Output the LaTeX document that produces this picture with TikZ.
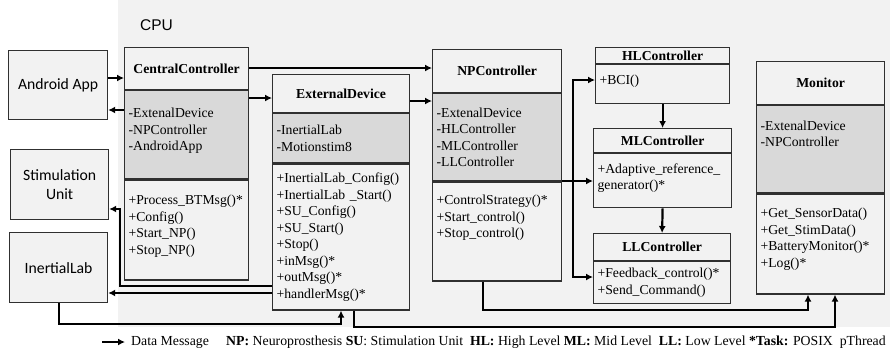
\documentclass[tikz,border=0pt]{standalone}
\usepackage{fontspec}
\setmainfont{Liberation Serif}
\newfontfamily\calibrifont{Carlito}
\newfontfamily\arialfont{Liberation Sans}
\usetikzlibrary{arrows.meta,positioning}

\hyphenpenalty=10000
\exhyphenpenalty=10000

\definecolor{cpugray}{HTML}{F2F2F2}
\definecolor{fieldgray}{HTML}{D9D9D9}
\definecolor{framegray}{HTML}{303030}

\newcommand{\umlfont}{\fontsize{13.7}{16.5}\selectfont}

\tikzstyle{device}=[draw=framegray,fill=cpugray,line width=1.2pt,minimum width=99pt,minimum height=69pt,anchor=north west,align=center,font=\calibrifont\fontsize{15.7}{19}\selectfont]
\tikzstyle{umlpart}=[draw=framegray,fill=cpugray,line width=1.2pt,inner xsep=4pt,inner ysep=0pt,align=left,font=\umlfont]
\tikzstyle{head}=[umlpart,anchor=north west,align=center,font=\umlfont\bfseries]
\tikzstyle{fields}=[umlpart,fill=fieldgray]
\tikzstyle{methods}=[umlpart]
\tikzstyle{msg}=[draw,line width=2.2pt,-{Latex[length=7pt,width=7pt]}]

\begin{document}
\begin{tikzpicture}[x=1pt,y=-1pt]
			\useasboundingbox (0,0) rectangle (890,354);
			% the CPU area
			\fill[cpugray] (118,0) rectangle (890,327);
			\node[anchor=base west,inner sep=0pt,font=\arialfont\fontsize{15.5}{18}\selectfont] (cpu) at (140,30) {CPU};

			% devices outside the CPU
			\node[device] (android) at (8,50) {Android App};
			\node[device,minimum width=98pt,minimum height=70pt] (stim) at (10,149) {Stimulation\\Unit};
			\node[device,minimum width=98pt,minimum height=70pt] (imu) at (9,232) {InertialLab};

			% CentralController
			\node[head,minimum width=124pt,minimum height=42pt] (cc-h) at (124,47) {CentralController};
			\node[fields,below=0pt of cc-h,text width=116pt,minimum height=88pt] (cc-a) {-ExtenalDevice\\-NPController\\-AndroidApp\\[-6pt]\mbox{}};
			\node[methods,below=0pt of cc-a,text width=116pt,minimum height=100pt] (cc-m) {+Process\_BTMsg()*\\+Config()\\+Start\_NP()\\+Stop\_NP()\\[-6pt]\mbox{}};

			% ExternalDevice
			\node[head,minimum width=137pt,minimum height=38pt] (ed-h) at (272,74) {ExternalDevice};
			\node[fields,below=0pt of ed-h,text width=129pt,minimum height=49pt] (ed-a) {-InertialLab\\-Motionstim8};
			\node[methods,below=0pt of ed-a,text width=129pt,minimum height=146pt] (ed-m) {+InertialLab\_Config()\\+InertialLab \_Start()\\+SU\_Config()\\+SU\_Start()\\+Stop()\\+inMsg()*\\+outMsg()*\\+handlerMsg()*};

			% NPController
			\node[head,minimum width=129pt,minimum height=43pt] (np-h) at (432,49) {NPController};
			\node[fields,below=0pt of np-h,text width=121pt,minimum height=87pt] (np-a) {-ExtenalDevice\\-HLController\\-MLController\\-LLController};
			\node[methods,below=0pt of np-a,text width=121pt,minimum height=99pt] (np-m) {+ControlStrategy()*\\+Start\_control()\\+Stop\_control()\\[14pt]\mbox{}};

			% the three control levels
			\node[head,minimum width=134pt,minimum height=16pt] (hl-h) at (595,47) {HLController};
			\node[methods,below=0pt of hl-h,text width=126pt,minimum height=39pt] (hl-m) {+BCI()\\[-8pt]\mbox{}};
			\node[head,minimum width=138pt,minimum height=24pt] (ml-h) at (593,128) {MLController};
			\node[methods,below=0pt of ml-h,text width=130pt,minimum height=54pt] (ml-m) {+Adaptive\_reference\_\\generator()*\\[-8pt]\mbox{}};
			\node[head,minimum width=137pt,minimum height=27pt] (ll-h) at (593,233) {LLController};
			\node[methods,below=0pt of ll-h,text width=129pt,minimum height=42pt] (ll-m) {+Feedback\_control()*\\+Send\_Command()};

			% Monitor
			\node[head,minimum width=128pt,minimum height=43pt] (mon-h) at (756,61) {Monitor};
			\node[fields,below=0pt of mon-h,text width=120pt,minimum height=87pt] (mon-a) {-ExtenalDevice\\-NPController\\[15pt]\mbox{}};
			\node[methods,below=0pt of mon-a,text width=120pt,minimum height=100pt] (mon-m) {+Get\_SensorData()\\+Get\_StimData()\\+BatteryMonitor()*\\+Log()*\\[-4pt]\mbox{}};

			% data messages
			\coordinate (split) at (573,181);
			\path[msg] (android.east |- 0,78) -- (cc-h.west |- 0,78);
			\path[msg] (cc-a.west |- 0,110) -- (android.east |- 0,110);
			\path[msg] (cc-h.east |- 0,68) -- (np-h.west |- 0,68);
			\path[msg] (cc-a.east |- 0,98) -- (ed-h.west |- 0,98);
			\path[msg] (ed-h.east |- 0,101) -- (np-a.west |- 0,101);
			\path[msg] (np-m.east |- 0,181) -- (ml-m.west |- 0,181);
			\path[msg] (split) |- (hl-m.west |- 0,80);
			\path[msg] (split) |- (ll-m.west |- 0,277);
			\path[msg] (hl-m.south) -- (ml-h.north);
			\path[msg] (ml-m.south) -- (ll-h.north);
			\path[msg] (ed-m.west |- 0,286) -| (120,209) -- (stim.east |- 0,209);
			\path[msg] (ed-m.west |- 0,293) -- (imu.east |- 0,293);
			\path[msg] (imu.south) -- ++(0,21) -| (ed-m.south -| 341,0);
			\path[msg] (ed-m.south -| 354,0) -- ++(0,16) -| (mon-m.south -| 835,0);
			\path[msg] (np-m.south -| 483,0) -- ++(0,28) -| (mon-m.south -| 808,0);

			% legend
			\coordinate (keytail) at (102,342);
			\node[anchor=west,inner xsep=6pt,inner ysep=0pt,font=\fontsize{13.8}{16}\selectfont] (key) at (125,342) {Data Message\quad\ \textbf{NP:} Neuroprosthesis \textbf{SU}: Stimulation Unit\ \ \textbf{HL:} High Level \textbf{ML:} Mid Level\ \ \textbf{LL:} Low Level \textbf{*Task:} POSIX\ \ pThread};
			\path[msg] (keytail) -- (key.west);
		\end{tikzpicture}
\end{document}
